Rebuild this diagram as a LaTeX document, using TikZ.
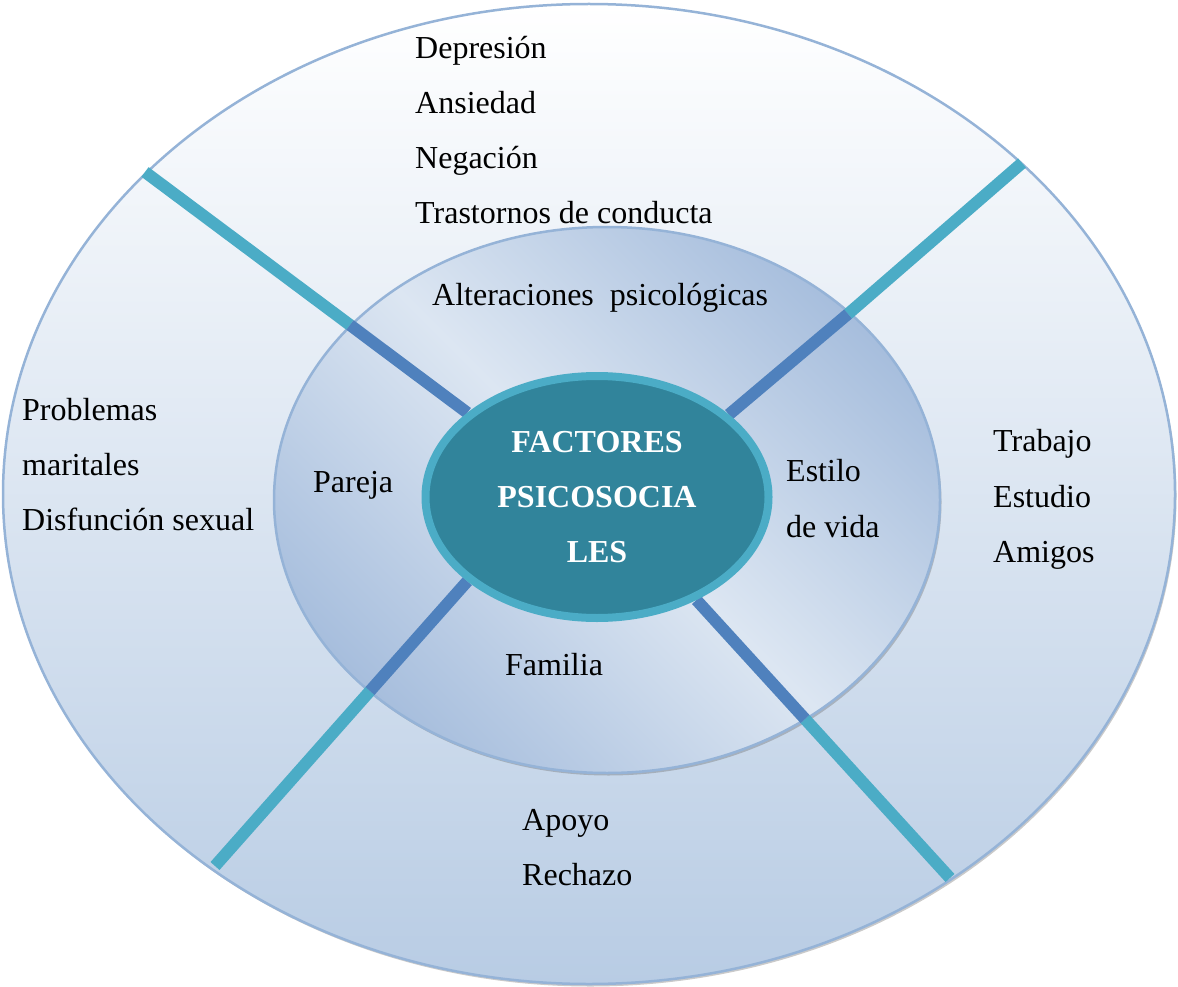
\documentclass[tikz,border=0pt]{standalone}
\usepackage{fontspec}
\setmainfont{Liberation Serif}
\usetikzlibrary{shapes.geometric,shadows}
\pgfdeclarelayer{background}
\pgfdeclarelayer{foreground}
\pgfsetlayers{background,main,foreground}
\definecolor{ringedge}{HTML}{95B3D7}
\definecolor{outerbot}{HTML}{B8CCE4}
\definecolor{middark}{HTML}{A7BEDD}
\definecolor{midlight}{HTML}{DCE6F2}
\definecolor{corefill}{HTML}{31849B}
\definecolor{coreedge}{HTML}{4BACC6}
\definecolor{spokeout}{HTML}{4BACC6}
\definecolor{spokein}{HTML}{4F81BD}
\begin{document}
\begin{tikzpicture}[x=1pt,y=-1pt,
  lbl/.style={anchor=base west, inner sep=0pt, font=\fontsize{32}{38}\selectfont},
  ring/.style={ellipse, draw=ringedge, line width=2.5pt, inner sep=0pt},
  ringshadow/.style={drop shadow={shadow xshift=1.5pt, shadow yshift=-2.5pt, fill=black!60, opacity=0.35}},
  spokeA/.style={line width=12pt, draw=spokeout},
  spokeB/.style={line width=12pt, draw=spokein}]
\useasboundingbox (0,0) rectangle (1178,987);
\begin{pgfonlayer}{background}
\node[ring, ringshadow, minimum width=1172pt, minimum height=980pt,
      top color=white, bottom color=outerbot] (outer) at (589,494) {};
\node[ring, ringshadow, minimum width=666pt, minimum height=546pt,
      top color=middark, bottom color=middark, middle color=midlight,
      shading angle=-45] (mid) at (607,500) {};
\end{pgfonlayer}
\begin{pgfonlayer}{foreground}
\node[ellipse, minimum width=343pt, minimum height=242pt, fill=corefill,
      draw=coreedge, line width=8pt, inner sep=0pt, align=center, text=white,
      font=\bfseries\fontsize{32}{55}\selectfont] (core) at (597,497)
      {FACTORES\\PSICOSOCIA\\LES};
\end{pgfonlayer}
% spokes
\coordinate (tlO) at (145,172); \coordinate (tlM) at (350,325);
\coordinate (trO) at (1022,163); \coordinate (trM) at (848,314);
\coordinate (blO) at (215,866); \coordinate (blM) at (370,691);
\coordinate (brO) at (950,878); \coordinate (brM) at (805,719);
\draw[spokeA] (tlO) -- (tlM); \draw[spokeB] (tlM) -- (core.147);
\draw[spokeA] (trO) -- (trM); \draw[spokeB] (trM) -- (core.32);
\draw[spokeA] (blO) -- (blM); \draw[spokeB] (blM) -- (core.213);
\draw[spokeA] (brO) -- (brM); \draw[spokeB] (brM) -- (core.314);
% texts
\node[lbl] (t1) at (415,59) {Depresión};
\node[lbl] (t2) at (415,114) {Ansiedad};
\node[lbl] (t3) at (415,169) {Negación};
\node[lbl] (t4) at (415,224) {Trastornos de conducta};
\node[lbl] (t5) at (432,305) {Alteraciones\ \ psicológicas};
\node[lbl] (l1) at (22,420) {Problemas};
\node[lbl] (l2) at (22,475) {maritales};
\node[lbl] (l3) at (22,530) {Disfunción sexual};
\node[lbl] (p1) at (313,492) {Pareja};
\node[lbl] (e1) at (786,481) {Estilo};
\node[lbl] (e2) at (786,537) {de vida};
\node[lbl] (r1) at (993,451) {Trabajo};
\node[lbl] (r2) at (993,507) {Estudio};
\node[lbl] (r3) at (993,562) {Amigos};
\node[lbl] (f1) at (505,675) {Familia};
\node[lbl] (b1) at (522,830) {Apoyo};
\node[lbl] (b2) at (522,885) {Rechazo};
\end{tikzpicture}
\end{document}
